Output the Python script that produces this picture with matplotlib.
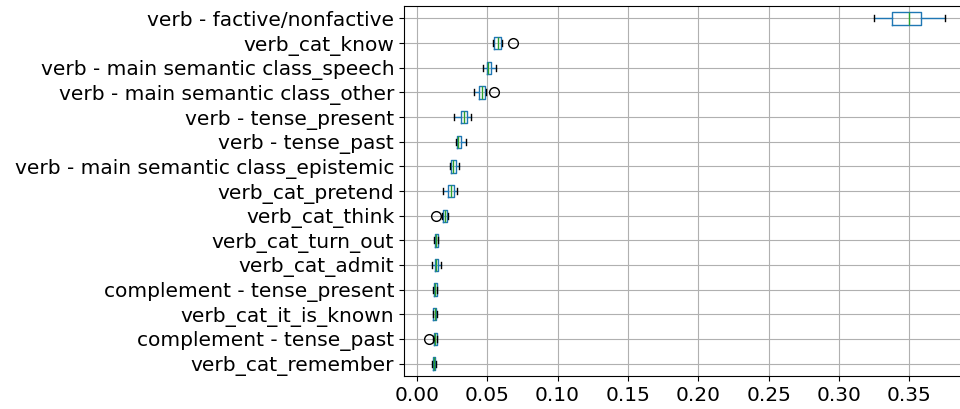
import matplotlib
matplotlib.use('Agg')
import matplotlib.pyplot as plt

# features listed top to bottom as shown
features = ['verb - factive/nonfactive', 'verb_cat_know',
            'verb - main semantic class_speech', 'verb - main semantic class_other',
            'verb - tense_present', 'verb - tense_past',
            'verb - main semantic class_epistemic', 'verb_cat_pretend',
            'verb_cat_think', 'verb_cat_turn_out', 'verb_cat_admit',
            'complement - tense_present', 'verb_cat_it_is_known',
            'complement - tense_past', 'verb_cat_remember']

whislo = [0.325, 0.0540, 0.0467, 0.0405, 0.0263, 0.0278, 0.0235, 0.0183,
          0.0180, 0.0121, 0.0104, 0.0111, 0.0111, 0.0114, 0.0107]
q1 = [0.338, 0.0550, 0.0496, 0.0443, 0.0311, 0.0287, 0.0242, 0.0223,
      0.0186, 0.0126, 0.0128, 0.0118, 0.0116, 0.0118, 0.0112]
med = [0.350, 0.0578, 0.0507, 0.0460, 0.0334, 0.0294, 0.0254, 0.0240,
       0.0202, 0.0138, 0.0133, 0.0128, 0.0126, 0.0130, 0.0123]
q3 = [0.358, 0.0600, 0.0529, 0.0481, 0.0358, 0.0316, 0.0275, 0.0263,
      0.0216, 0.0148, 0.0149, 0.0140, 0.0136, 0.0140, 0.0131]
whishi = [0.3755, 0.0605, 0.0560, 0.0489, 0.0386, 0.0346, 0.0299, 0.0287,
          0.0222, 0.0153, 0.0168, 0.0145, 0.0140, 0.0144, 0.0135]
fliers = [[], [0.0685], [], [0.0550], [], [], [], [],
          [0.0135], [], [], [], [], [0.0088], []]

stats = []
for i in range(len(features)):
    stats.append({'label': features[i], 'whislo': whislo[i], 'q1': q1[i],
                  'med': med[i], 'q3': q3[i], 'whishi': whishi[i],
                  'fliers': fliers[i]})

n = len(features)
fig = plt.figure(figsize=(9.6, 4.09), dpi=100)
# axes runs off the right edge like the original (cropped) picture
ax = fig.add_axes([0.4208, 0.0807, 0.5906, 0.9046])
ax.bxp(stats, positions=list(range(n, 0, -1)), orientation='horizontal',
       widths=0.5,
       boxprops=dict(color='#1f77b4'),
       whiskerprops=dict(color='#1f77b4'),
       medianprops=dict(color='#2ca02c'),
       capprops=dict(color='k'),
       flierprops=dict(marker='o', markersize=7, markeredgecolor='k',
                       markerfacecolor='none'))

ax.set_xlim(-0.0092, 0.3938)
ax.set_ylim(0.5, n + 0.5)
ax.set_xticks([0.0, 0.05, 0.10, 0.15, 0.20, 0.25, 0.30, 0.35])
ax.set_xticklabels(['0.00', '0.05', '0.10', '0.15', '0.20', '0.25', '0.30', '0.35'])
ax.tick_params(labelsize=14.5)
ax.grid(True)
ax.set_axisbelow(True)

fig.savefig('out.png', dpi=100)
